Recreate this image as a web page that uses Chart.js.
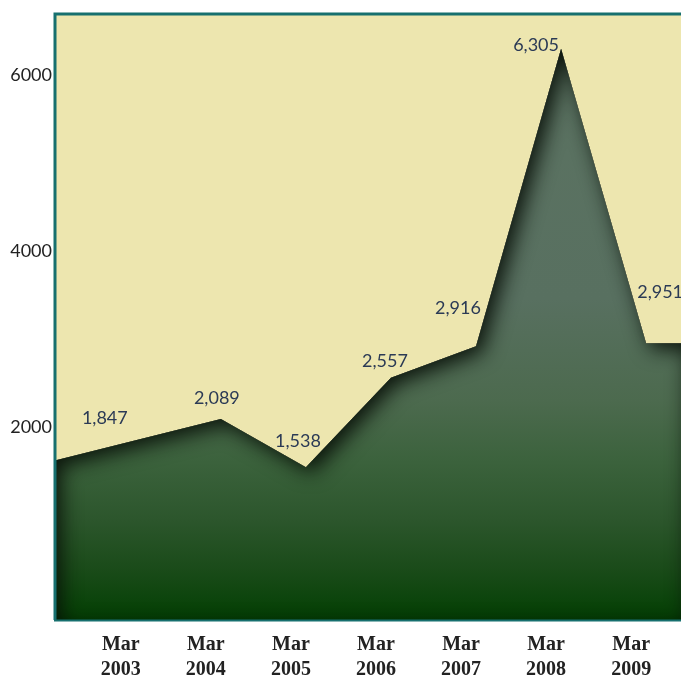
<!DOCTYPE html>
<html>
<head>
<meta charset="utf-8">
<script src="https://cdn.jsdelivr.net/npm/chart.js@4/dist/chart.umd.min.js"></script>
<style>
    body { margin: 0; background: #ffffff; }
    #wrap { width: 681px; height: 677px; position: relative; }
</style>
</head>
<body>
<div id="wrap"><canvas id="areaChart"></canvas></div>
<script>

// ==========================================
// Data
// ==========================================

const years = [2003, 2004, 2005, 2006, 2007, 2008, 2009];

const values = [1847, 2089, 1538, 2557, 2916, 6305, 2951];

const yTicks = [2000, 4000, 6000];

const monthLabel = "Mar";

// label nudges (px) so the numbers sit above the edge like the original
const labelShift = [
    [-31, -22], [-4, -21], [-8, -26], [-6, -17],
    [-18, -38], [-25, -4], [14, -51]
];


// ==========================================
// Helpers
// ==========================================

function areaGradient(chart) {

    const {ctx, chartArea} = chart;

    if (!chartArea) return "#2f5a30";

    const g = ctx.createLinearGradient(0, chartArea.top, 0, chartArea.bottom);

    g.addColorStop(0.00, "#5c7362");
    g.addColorStop(0.47, "#587060");
    g.addColorStop(0.64, "#4c6a4e");
    g.addColorStop(0.74, "#3b623c");
    g.addColorStop(0.835, "#2c562c");
    g.addColorStop(0.917, "#1a4b19");
    g.addColorStop(1.00, "#034003");

    return g;
}

// outline of the whole area, running out to the plot edges
function outline(ctx, pts, area) {

    const p0 = pts[0], p1 = pts[1];
    const slope = (p1.y - p0.y) / (p1.x - p0.x);
    const yLeft = p0.y - slope * (p0.x - area.left);
    const last = pts[pts.length - 1];

    ctx.moveTo(area.left, area.bottom);
    ctx.lineTo(area.left, yLeft);
    pts.forEach(p => ctx.lineTo(p.x, p.y));
    ctx.lineTo(area.right, last.y);
    ctx.lineTo(area.right, area.bottom);
    ctx.closePath();
}


// ==========================================
// Plugin: background, edges, inner shadow, labels
// ==========================================

const areaDecor = {

    id: "areaDecor",

    beforeDatasetsDraw(chart) {

        const {ctx, chartArea: a} = chart;
        const pts = chart.getDatasetMeta(0).data;

        ctx.save();

        ctx.fillStyle = "#ede6af";
        ctx.fillRect(a.left, a.top, a.width, a.height);

        // fill the stretches beyond the first and last point
        const p0 = pts[0], p1 = pts[1];
        const slope = (p1.y - p0.y) / (p1.x - p0.x);
        const last = pts[pts.length - 1];

        ctx.fillStyle = areaGradient(chart);

        ctx.beginPath();
        ctx.moveTo(a.left, a.bottom);
        ctx.lineTo(a.left, p0.y - slope * (p0.x - a.left));
        ctx.lineTo(p0.x + 1, p0.y + slope);
        ctx.lineTo(p0.x + 1, a.bottom);
        ctx.closePath();
        ctx.fill();

        ctx.beginPath();
        ctx.rect(last.x - 1, last.y, a.right - last.x + 1, a.bottom - last.y);
        ctx.fill();

        ctx.restore();
    },

    afterDatasetsDraw(chart) {

        const {ctx, chartArea: a} = chart;
        const pts = chart.getDatasetMeta(0).data;

        // inner shadow along the top edge
        ctx.save();
        ctx.beginPath();
        outline(ctx, pts, a);
        ctx.clip();

        ctx.beginPath();
        ctx.rect(a.left - 300, a.top - 300, a.width + 600, a.height + 600);
        outline(ctx, pts, a);
        ctx.shadowColor = "rgba(8,16,8,0.95)";
        ctx.shadowBlur = 20;
        ctx.shadowOffsetX = 6;
        ctx.shadowOffsetY = 6;
        ctx.fillStyle = "#000";
        ctx.fill("evenodd");
        ctx.restore();

        // frame
        ctx.save();
        ctx.strokeStyle = "#17706f";
        ctx.lineWidth = 3;
        ctx.beginPath();
        ctx.moveTo(a.left, a.bottom);
        ctx.lineTo(a.left, a.top);
        ctx.lineTo(a.right, a.top);
        ctx.stroke();

        ctx.lineWidth = 2;
        ctx.beginPath();
        ctx.moveTo(a.left - 1, a.bottom + 0.5);
        ctx.lineTo(a.right, a.bottom + 0.5);
        ctx.stroke();
        ctx.restore();

        // value labels
        ctx.save();
        ctx.font = "18px Lato";
        ctx.fillStyle = "#2b3a55";
        ctx.textAlign = "center";
        ctx.textBaseline = "middle";

        pts.forEach((p, i) => {
            ctx.fillText(
                values[i].toLocaleString("en-US"),
                p.x + labelShift[i][0],
                p.y + labelShift[i][1]
            );
        });

        ctx.restore();
    }
};


// ==========================================
// Chart
// ==========================================

function loadAreaChart() {

    const ctx = document.getElementById("areaChart");

    new Chart(ctx, {

        type: "line",

        data: {
            datasets: [{
                data: years.map((y, i) => ({x: y, y: values[i]})),
                fill: "start",
                backgroundColor: c => areaGradient(c.chart),
                borderWidth: 0,
                borderColor: "rgba(0,0,0,0)",
                pointRadius: 0,
                tension: 0
            }]
        },

        options: {

            responsive: true,
            maintainAspectRatio: false,
            animation: false,

            layout: {
                padding: {top: 14, right: 0, bottom: 0, left: 0}
            },

            plugins: {
                legend: {display: false},
                tooltip: {enabled: false}
            },

            scales: {

                x: {
                    type: "linear",
                    min: 2002.05,
                    max: 2009.41,
                    grid: {display: false, drawTicks: false},
                    border: {display: false},
                    afterBuildTicks: s => {
                        s.ticks = years.map(v => ({value: v}));
                    },
                    afterFit: s => { s.height = 57; },
                    ticks: {
                        padding: 12,
                        labelOffset: -15,
                        maxRotation: 0,
                        autoSkip: false,
                        color: "#222222",
                        font: {family: "'Liberation Serif'", size: 20, weight: "bold", lineHeight: 1.25},
                        callback: v => [monthLabel, String(v)]
                    }
                },

                y: {
                    min: -200,
                    max: 6700,
                    grid: {display: false, drawTicks: false},
                    border: {display: false},
                    afterBuildTicks: s => {
                        s.ticks = yTicks.map(v => ({value: v}));
                    },
                    afterFit: s => { s.width = 55; },
                    ticks: {
                        padding: 3,
                        color: "#222222",
                        font: {family: "Lato", size: 18},
                        callback: v => String(v)
                    }
                }
            }
        },

        plugins: [areaDecor]
    });
}

loadAreaChart();

</script>
</body>
</html>
